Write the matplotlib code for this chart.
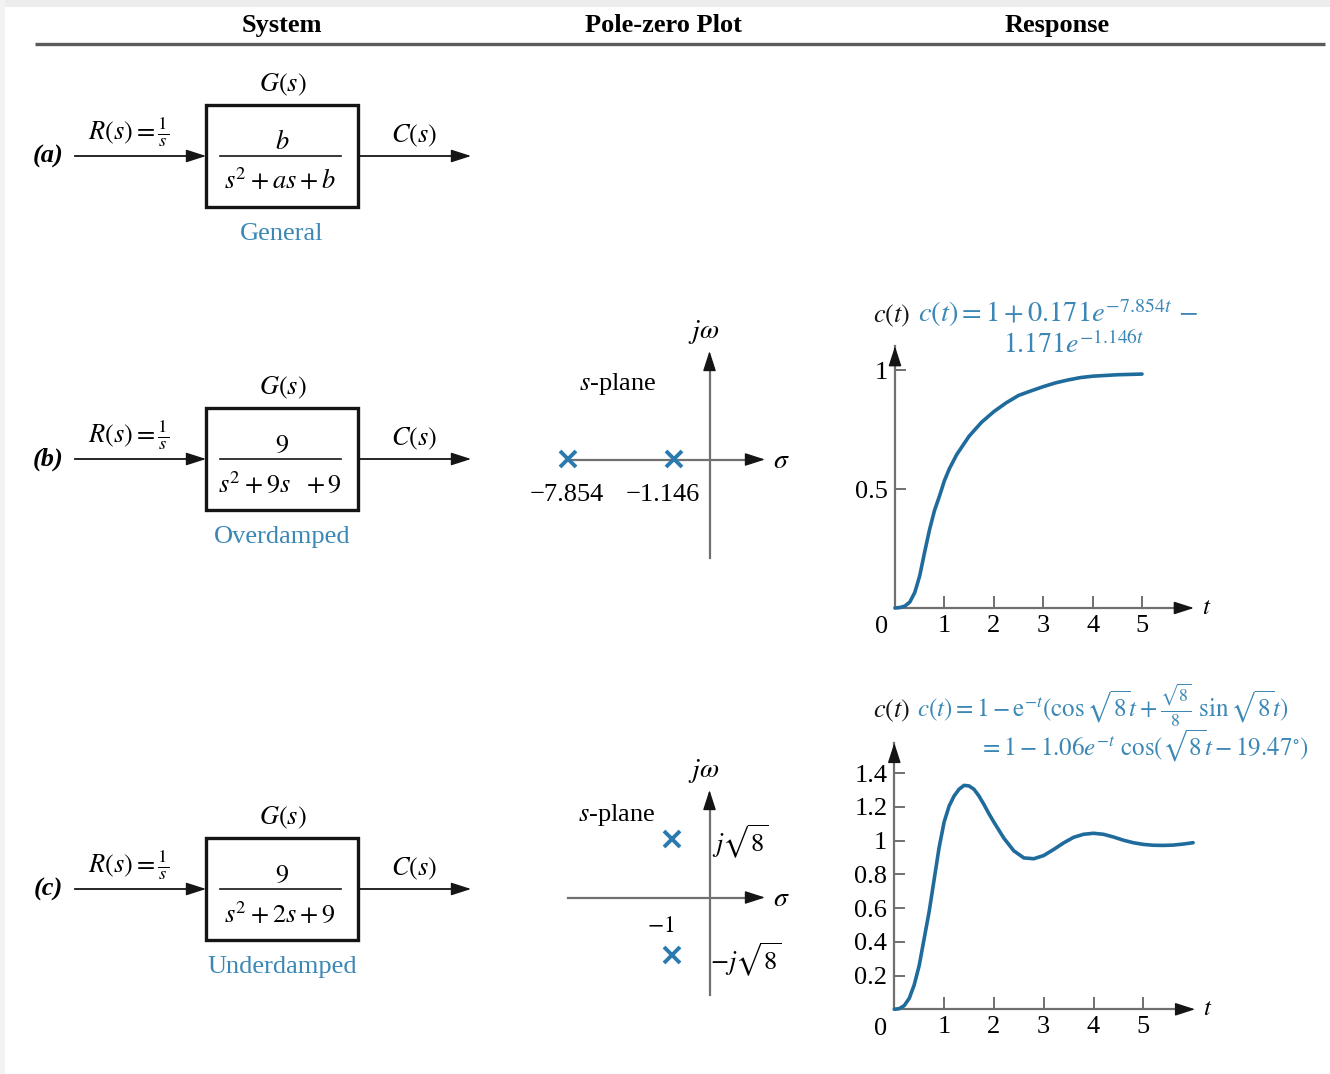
import numpy as np
import matplotlib
matplotlib.use('Agg')
import matplotlib.pyplot as plt
from matplotlib.patches import Rectangle

# step response of the overdamped system, c(t) against t
t_over = [0, 0.1, 0.2, 0.3, 0.4, 0.5, 0.6, 0.7, 0.8, 0.9, 1.0, 1.1, 1.25, 1.5,
          1.75, 2.0, 2.25, 2.5, 2.75, 3.0, 3.25, 3.5, 3.75, 4.0, 4.5, 5.0]
c_over = [0, 0.002, 0.008, 0.025, 0.065, 0.135, 0.235, 0.33, 0.41, 0.47, 0.535,
          0.585, 0.645, 0.722, 0.78, 0.825, 0.862, 0.893, 0.912, 0.93, 0.946,
          0.958, 0.968, 0.974, 0.98, 0.983]

# step response of the underdamped system
t_under = [0, 0.1, 0.2, 0.3, 0.4, 0.5, 0.6, 0.7, 0.8, 0.9, 1.0, 1.1, 1.2, 1.3,
           1.4, 1.5, 1.6, 1.7, 1.8, 1.9, 2.0, 2.2, 2.4, 2.6, 2.8, 3.0, 3.2, 3.4,
           3.6, 3.8, 4.0, 4.2, 4.4, 4.6, 4.8, 5.0, 5.2, 5.4, 5.6, 5.8, 6.0]
c_under = [0, 0.004, 0.022, 0.065, 0.145, 0.26, 0.42, 0.58, 0.77, 0.96, 1.11,
           1.205, 1.265, 1.305, 1.328, 1.325, 1.305, 1.265, 1.215, 1.16, 1.11,
           1.015, 0.94, 0.898, 0.893, 0.912, 0.948, 0.987, 1.02, 1.038, 1.044,
           1.038, 1.022, 1.003, 0.988, 0.978, 0.973, 0.972, 0.974, 0.98, 0.988]

poles_over = [-7.854, -1.146]
poles_under_re = [-1.0, -1.0]
poles_under_im = [np.sqrt(8), -np.sqrt(8)]

t_ticks = [1, 2, 3, 4, 5]
over_yticks = [0.5, 1.0]
over_ylabels = ['0.5', '1']
under_yticks = [0.2, 0.4, 0.6, 0.8, 1.0, 1.2, 1.4]
under_ylabels = ['0.2', '0.4', '0.6', '0.8', '1', '1.2', '1.4']

headers = ['System', 'Pole-zero Plot', 'Response']
tags = ['(a)', '(b)', '(c)']
numerators = [r'$b$', r'$9$', r'$9$']
denominators = [r'$s^2 + as + b$', r'$s^2 + 9s\ \ + 9$', r'$s^2 + 2s + 9$']
kinds = ['General', 'Overdamped', 'Underdamped']

W, H = 1330, 1074
BLUE = '#3b87b5'
CURVE = '#1f6b9c'
POLE = '#2a7ab0'
INK = '#151515'
AXIS = '#707070'

plt.rcParams['font.family'] = 'serif'
plt.rcParams['font.serif'] = ['Liberation Serif', 'DejaVu Serif']
plt.rcParams['mathtext.fontset'] = 'stix'

fig = plt.figure(figsize=(W / 100, H / 100), dpi=100)
base = fig.add_axes([0, 0, 1, 1])
base.set_xlim(0, W)
base.set_ylim(H, 0)
base.axis('off')

# faint frame along the top and left edges
base.add_patch(Rectangle((0, 0), W, 7, color='#ededed', lw=0))
base.add_patch(Rectangle((0, 0), 5, H, color='#f2f2f2', lw=0))


def head(ax, x, y, dx, dy, color=INK):
    ax.annotate('', xy=(x, y), xytext=(dx, dy), textcoords='offset points',
                arrowprops=dict(arrowstyle='-|>,head_length=0.62,head_width=0.2',
                                color=color, lw=1, shrinkA=0, shrinkB=0,
                                mutation_scale=20))


def data_axes(box, origin, scale, xscale=None):
    left, top, right, bottom = box
    ox, oy = origin
    sx, sy = scale
    ax = fig.add_axes([left / W, 1 - bottom / H, (right - left) / W, (bottom - top) / H])
    lo, hi = (left - ox) / sx, (right - ox) / sx
    if xscale is not None:
        ax.set_xscale('function', functions=xscale)
        lo, hi = xscale[1](np.array(lo)), xscale[1](np.array(hi))
    ax.set_xlim(lo, hi)
    ax.set_ylim((oy - bottom) / sy, (oy - top) / sy)
    ax.patch.set_alpha(0)
    return ax


# column headers and rule
for x, name in zip([282, 663, 1057], headers):
    base.text(x, 32, name, ha='center', va='baseline', fontsize=19, fontweight='bold')
base.plot([35, 1325], [44, 44], color='#5a5a5a', lw=2.4, solid_capstyle='butt')

# block diagrams
for yc, tag, num, den, kind in zip([156, 459, 889], tags, numerators, denominators, kinds):
    base.add_patch(Rectangle((206, yc - 51), 152, 102, fill=False, lw=2.4, ec=INK))
    base.plot([75, 200], [yc, yc], color=INK, lw=1.3)
    head(base, 206, yc, -13, 0)
    base.plot([358, 462], [yc, yc], color=INK, lw=1.3)
    head(base, 471, yc, -13, 0)
    base.plot([220, 341], [yc, yc], color=INK, lw=1.2)
    base.text(282, yc - 7, num, ha='center', va='baseline', fontsize=19)
    base.text(280, yc + 33, den, ha='center', va='baseline', fontsize=19)
    base.text(283, yc - 65, r'$G(s)$', ha='center', va='baseline', fontsize=19)
    base.text(88, yc - 16, r'$R(s) = \frac{1}{s}$', ha='left', va='baseline', fontsize=19)
    base.text(414, yc - 14, r'$C(s)$', ha='center', va='baseline', fontsize=19)
    base.text(48, yc + 7, tag, ha='center', va='baseline', fontsize=19,
              fontweight='bold', fontstyle='italic')
    base.text(282, yc + 84, kind, ha='center', va='baseline', fontsize=19, color=BLUE)

# s-plane axes
for y0, top, bottom, left in [(459.5, 351, 558, 570), (897.5, 790, 995, 568)]:
    base.plot([left, 752], [y0, y0], color=AXIS, lw=1.6)
    head(base, 765, y0, -13, 0)
    base.plot([709.5, 709.5], [bottom, top + 12], color=AXIS, lw=1.6)
    head(base, 709.5, top, 0, -13)
    base.text(781, y0 + 2, r'$\sigma$', ha='center', va='center', fontsize=20)
    base.text(704, top - 19, r'$j\omega$', ha='center', va='center', fontsize=20)
base.text(618, 384, r'$s$-plane', ha='center', va='center', fontsize=19)
base.text(617, 815, r'$s$-plane', ha='center', va='center', fontsize=19)
base.text(740, 842, r'$j\sqrt{8}$', ha='center', va='center', fontsize=19)
base.text(746, 960, r'$-j\sqrt{8}$', ha='center', va='center', fontsize=19)
base.text(661, 926, r'$-1$', ha='center', va='center', fontsize=17)

# overdamped poles on a compressed real axis
pw = 0.72
squash = (lambda x: np.sign(x) * np.abs(x) ** pw,
          lambda u: np.sign(u) * np.abs(u) ** (1 / pw))
pz_b = data_axes((540, 340, 800, 575), (709.3, 459.3), (32, 30), xscale=squash)
pz_b.axis('off')
pz_b.plot(poles_over, [0] * len(poles_over), 'x', color=POLE, ms=12, mew=2.8)
for p, dx in zip(poles_over, [-1, -8]):
    pz_b.annotate('\u2212%.3f' % abs(p), xy=(p, 0), xytext=(dx, -26),
                  textcoords='offset points', ha='center', va='center', fontsize=19)

pz_c = data_axes((540, 760, 800, 1000), (709.3, 897.3), (37.6, 20.5))
pz_c.axis('off')
pz_c.plot(poles_under_re, poles_under_im, 'x', color=POLE, ms=12, mew=2.8)


def response(ax, t, c, yticks, ylabels, ttip, ctip):
    for s in ax.spines.values():
        s.set_visible(False)
    ax.spines['left'].set_position(('data', 0))
    ax.spines['bottom'].set_position(('data', 0))
    ax.plot([0, ttip - 0.2], [0, 0], color=AXIS, lw=1.6)
    head(ax, ttip, 0, -13, 0)
    ax.plot([0, 0], [0, ctip], color=AXIS, lw=1.6)
    head(ax, 0, ctip, 0, -13)
    ax.plot(t, c, color=CURVE, lw=2.6, solid_capstyle='round',
            solid_joinstyle='round', zorder=3)
    ax.set_xticks(t_ticks)
    ax.set_xticklabels([str(v) for v in t_ticks])
    ax.set_yticks(yticks)
    ax.set_yticklabels(ylabels)
    ax.tick_params(axis='x', direction='in', length=9, width=1.4, color=AXIS,
                   pad=5, labelsize=19)
    ax.tick_params(axis='y', direction='in', length=8, width=1.4, color=AXIS,
                   pad=5, labelsize=19)
    ax.annotate('0', xy=(0, 0), xytext=(-10, -14), textcoords='offset points',
                ha='center', va='center', fontsize=19)
    ax.annotate(r'$t$', xy=(ttip, 0), xytext=(9, 0), textcoords='offset points',
                ha='center', va='center', fontsize=18)


resp_b = data_axes((850, 330, 1215, 640), (895, 608), (49.4, 238))
response(resp_b, t_over, c_over, over_yticks, over_ylabels, 6.05, 1.1)
resp_c = data_axes((845, 730, 1215, 1045), (894.3, 1009.3), (49.8, 168.6))
response(resp_c, t_under, c_under, under_yticks, under_ylabels, 6.04, 1.58)

# response formulas
base.text(873, 322, r'$c(t)$', ha='left', va='baseline', fontsize=19, color=INK)
base.text(918, 322, r'$c(t) = 1 + 0.171e^{-7.854t}\,-$', ha='left', va='baseline',
          fontsize=20.5, color=BLUE)
base.text(1003, 353, r'$1.171e^{-1.146t}$', ha='left', va='baseline', fontsize=20, color=BLUE)
base.text(873, 717, r'$c(t)$', ha='left', va='baseline', fontsize=19, color=INK)
base.text(917, 717, r'$c(t) = 1 - \mathrm{e}^{-t}(\cos\sqrt{8}t + \frac{\sqrt{8}}{8}\ \sin\sqrt{8}t)$',
          ha='left', va='baseline', fontsize=18, color=BLUE)
base.text(979, 756, r'$= 1 - 1.06e^{-t}\ \cos(\sqrt{8}t - 19.47^{\circ})$', ha='left',
          va='baseline', fontsize=18, color=BLUE)

fig.savefig('out.png', dpi=100)
